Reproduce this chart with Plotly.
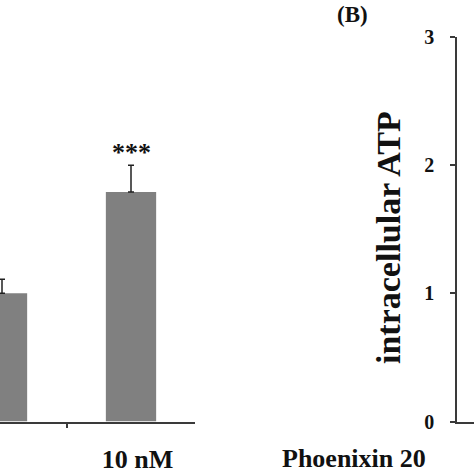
import plotly.graph_objects as go

# Data
categories = ["0", "10 nM"]
atp_values = [1.00, 1.79]
atp_errors = [0.11, 0.21]
y_ticks = [0, 1, 2, 3]
significance = "***"
x_title = "Phoenixin 20"
y_title = "intracellular ATP"
panel_label = "(B)"

W = H = 474
FONT = "Liberation Serif"
AXC = "#3a3a3a"
BAR = "#808080"
NB = "\u00a0"

y_dom = [(H - 421.5) / H, (H - 37) / H]

fig = go.Figure()
fig.add_trace(go.Bar(
    x=[0, 1], y=atp_values, width=0.39,
    marker=dict(color=BAR, line=dict(width=0)),
    error_y=dict(type="data", array=atp_errors, symmetric=False, arrayminus=[0, 0],
                 color="#202020", thickness=1.5, width=3),
    xaxis="x", yaxis="y", showlegend=False,
))
# invisible trace to activate right panel
fig.add_trace(go.Scatter(x=[0], y=[0], mode="markers", marker=dict(opacity=0),
                         xaxis="x2", yaxis="y2", showlegend=False, hoverinfo="skip"))

px_per = 129.0
x_left = -2 / px_per
x_right = (195 - 2) / px_per

tick_text = [categories[0] + NB, NB * 2 + categories[1]]

fig.update_layout(
    width=W, height=H,
    margin=dict(l=0, r=0, t=0, b=0, pad=0),
    paper_bgcolor="white", plot_bgcolor="white",
    font=dict(family=FONT, color="#111111"),
    xaxis=dict(domain=[0, 195 / W], range=[x_left, x_right], showline=True, linecolor=AXC,
               linewidth=1.5, showgrid=False, zeroline=False, automargin=False,
               tickvals=[0, 1], ticktext=tick_text, ticks="",
               tickfont=dict(family=FONT, size=26, weight="bold", color="#111"),
               ticklabelstandoff=14,
               minor=dict(tick0=0.5, dtick=1, ticks="outside", ticklen=5, tickcolor=AXC,
                          tickwidth=1.5, showgrid=False),
               anchor="y"),
    yaxis=dict(domain=y_dom, range=[0, 3], visible=False, anchor="x", automargin=False),
    xaxis2=dict(domain=[457 / W, 1], range=[0, 1], showline=True, linecolor=AXC, linewidth=1.5,
                showgrid=False, zeroline=False, showticklabels=False, ticks="", anchor="y2",
                automargin=False),
    yaxis2=dict(domain=y_dom, range=[0, 3], showline=True, linecolor=AXC, linewidth=1.5,
                showgrid=False, zeroline=False, tickvals=y_ticks, ticks="outside", ticklen=5,
                tickcolor=AXC, tickwidth=1.5, ticklabelstandoff=12, automargin=False,
                tickfont=dict(family=FONT, size=20, weight="bold", color="#111"),
                anchor="x2"),
)

fig.add_annotation(x=1, y=2.10, xref="x", yref="y", text=significance, showarrow=False,
                   xanchor="center", yanchor="middle",
                   font=dict(family=FONT, size=26, weight="bold", color="#111"))
fig.add_annotation(x=354 / W, y=(H - 458) / H, xref="paper", yref="paper", text=x_title,
                   xanchor="center", yanchor="middle", showarrow=False,
                   font=dict(family=FONT, size=26, weight="bold", color="#111"))
fig.add_annotation(x=388 / W, y=(H - 238) / H, xref="paper", yref="paper", text=y_title,
                   textangle=-90, showarrow=False, xanchor="center", yanchor="middle",
                   font=dict(family=FONT, size=34, weight="bold", color="#111"))
fig.add_annotation(x=352 / W, y=(H - 14.5) / H, xref="paper", yref="paper", text=panel_label,
                   xanchor="center", yanchor="middle", showarrow=False,
                   font=dict(family=FONT, size=23, weight="bold", color="#111"))

fig.write_html("out.html", post_script="document.body.style.margin='0';",
               config={"displayModeBar": False})
